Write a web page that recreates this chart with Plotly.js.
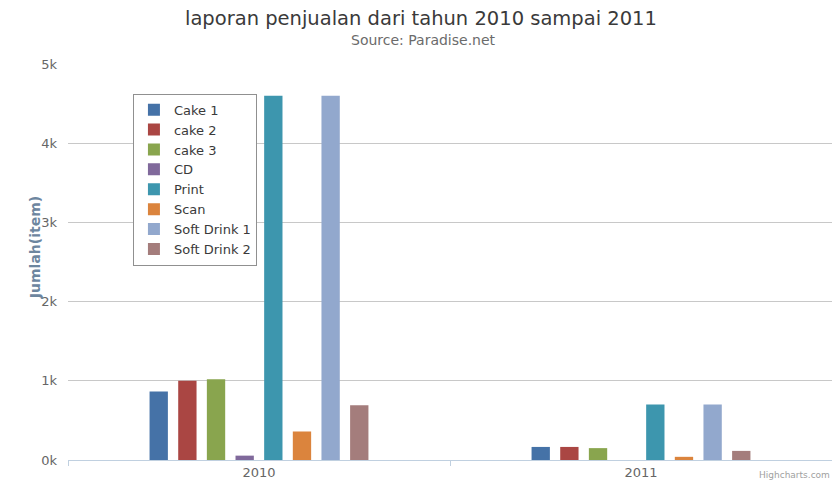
<!DOCTYPE html>
<html>
<head>
<meta charset="utf-8">
<script src="https://cdn.plot.ly/plotly-3.0.1.min.js"></script>
<style>html,body{margin:0;padding:0;background:#fff;}#chart{width:832px;height:482px;}</style>
</head>
<body>
<div id="chart"></div>
<script>
const categories = ["2010", "2011"];
const seriesNames = ["Cake 1", "cake 2", "cake 3", "CD", "Print", "Scan", "Soft Drink 1", "Soft Drink 2"];
const cake1 = [865, 165];
const cake2 = [1000, 165];
const cake3 = [1020, 150];
const cd = [55, 0];
const print = [4600, 700];
const scan = [360, 40];
const softDrink1 = [4600, 700];
const softDrink2 = [690, 115];
const yTickVals = [0, 1000, 2000, 3000, 4000, 5000];
const yTickText = ["0k", "1k", "2k", "3k", "4k", "5k"];

const seriesValues = [cake1, cake2, cake3, cd, print, scan, softDrink1, softDrink2];
const colors = ['#4572A7', '#AA4643', '#89A54E', '#80699B', '#3D96AE', '#DB843D', '#92A8CD', '#A47D7C'];
const font = "DejaVu Sans, sans-serif";

const traces = seriesNames.map((n, i) => ({
  type: 'bar',
  name: n,
  x: categories,
  y: seriesValues[i],
  marker: {color: colors[i], line: {width: 0}},
  hoverinfo: 'x+y+name'
}));

const layout = {
  width: 832, height: 482,
  margin: {l: 68, r: 0, t: 64, b: 22},
  paper_bgcolor: '#fff', plot_bgcolor: '#fff',
  font: {family: font, size: 13, color: '#666'},
  barmode: 'group',
  bargap: 0.4,
  bargroupgap: 0.36,
  xaxis: {
    type: 'category',
    showgrid: false,
    showline: true, linecolor: '#C0D0E0', linewidth: 1,
    ticks: 'outside', tickson: 'boundaries', ticklen: 5, tickcolor: '#C0D0E0',
    tickfont: {family: font, size: 13, color: '#666'},
    fixedrange: true
  },
  yaxis: {
    range: [0, 5000],
    tickvals: yTickVals, ticktext: yTickText,
    showgrid: true, gridcolor: '#C8C8C8', gridwidth: 1,
    zeroline: false, showline: false,
    ticks: '', ticklabelstandoff: 10,
    tickfont: {family: font, size: 13, color: '#666'},
    fixedrange: true
  },
  showlegend: true,
  legend: {
    x: 0.085, y: 0.925, xanchor: 'left', yanchor: 'top',
    bgcolor: '#fff', bordercolor: '#909090', borderwidth: 1,
    font: {family: font, size: 13, color: '#3a3a3a'},
    tracegroupgap: 0, itemwidth: 30
  },
  annotations: [
    {
      text: 'laporan penjualan dari tahun 2010 sampai 2011', xref: 'paper', yref: 'paper',
      x: 0.462, y: 1, yshift: 46, xanchor: 'center', yanchor: 'middle', showarrow: false,
      font: {family: font, size: 19.5, color: '#3a3a3a'}
    },
    {
      text: 'Source: Paradise.net', xref: 'paper', yref: 'paper',
      x: 0.465, y: 1, yshift: 24, xanchor: 'center', yanchor: 'middle', showarrow: false,
      font: {family: font, size: 14, color: '#6b6b6b'}
    },
    {
      text: '<b>Jumlah(item)</b>', xref: 'paper', yref: 'paper',
      x: 0, xshift: -33, y: 0.535, textangle: -90, xanchor: 'center', yanchor: 'middle', showarrow: false,
      font: {family: font, size: 14, color: '#6D869F'}
    },
    {
      text: 'Highcharts.com', xref: 'paper', yref: 'paper', x: 1, y: 0, yshift: -22,
      xanchor: 'right', yanchor: 'bottom', showarrow: false,
      font: {family: font, size: 9, color: '#a0a0a0'}
    }
  ]
};

Plotly.newPlot('chart', traces, layout, {displayModeBar: false, staticPlot: true});
</script>
</body>
</html>
